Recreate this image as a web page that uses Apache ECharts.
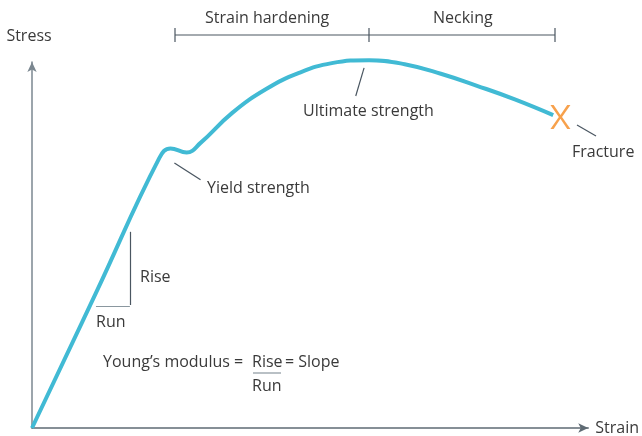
<!DOCTYPE html>
<html>
<head>
<meta charset="utf-8">
<script src="https://cdn.jsdelivr.net/npm/echarts@6/dist/echarts.min.js"></script>
<style>
  html, body { margin: 0; padding: 0; background: #fff; }
  #chart { width: 642px; height: 436px; }
</style>
</head>
<body>
<div id="chart"></div>
<script>
// strain (0-100) vs stress (0-100)
const strain = [0, 11.5, 22.9, 24.9, 27.8, 30.3, 36.0, 42.1, 48.0, 53.9, 60.6, 67.0, 73.5, 80.0, 86.8, 93.7]
const stress = [0, 36.9, 73.8, 76.4, 75.3, 77.9, 86.1, 92.6, 97.0, 99.7, 100.5, 99.4, 96.8, 93.5, 89.8, 85.5]
const fracturePoint = [95.0, 85.0]

const curve = strain.map((x, i) => [x, stress[i]])

const textColor = '#3a3a3a'
const lineGray = '#4a5661'
const font = '16px "Open Sans", "Noto Sans", sans-serif'

let myEcharts = echarts.init(document.getElementById('chart'))

// leader lines in data coords
function seg(a, b, color) {
  return [
    { coord: a, lineStyle: { color: color || lineGray } },
    { coord: b }
  ]
}

function label(text, left, top) {
  return { type: 'text', left: left, top: top, style: { text: text, fill: textColor, font: font } }
}

function gline(x1, y1, x2, y2, color) {
  return { type: 'line', shape: { x1: x1, y1: y1, x2: x2, y2: y2 }, style: { stroke: color || lineGray, lineWidth: 1.2 } }
}

myEcharts.setOption({
  animation: false,
  grid: { left: 32, right: 52, top: 62, bottom: 8 },
  xAxis: {
    type: 'value',
    min: 0,
    max: 100,
    name: 'Strain',
    nameLocation: 'end',
    nameGap: 7,
    nameTextStyle: { color: textColor, fontSize: 16, fontFamily: '"Open Sans", sans-serif', verticalAlign: 'middle' },
    axisLine: { lineStyle: { color: '#5f6b74', width: 1.5 }, symbol: ['none', 'arrow'], symbolSize: [7, 10] },
    axisTick: { show: false },
    axisLabel: { show: false },
    splitLine: { show: false }
  },
  yAxis: {
    type: 'value',
    min: 0,
    max: 100,
    name: 'Stress',
    nameLocation: 'end',
    nameGap: 18,
    nameTextStyle: { color: textColor, fontSize: 16, fontFamily: '"Open Sans", sans-serif', padding: [0, 6, 0, 0] },
    axisLine: { lineStyle: { color: '#7b8790', width: 1.5 }, symbol: ['none', 'arrow'], symbolSize: [7, 10] },
    axisTick: { show: false },
    axisLabel: { show: false },
    splitLine: { show: false }
  },
  series: [
    {
      type: 'line',
      data: curve,
      smooth: 0.45,
      showSymbol: false,
      clip: false,
      lineStyle: { color: '#41bad4', width: 4 },
      markLine: {
        silent: true,
        symbol: 'none',
        label: { show: false },
        lineStyle: { type: 'solid', width: 1.2 },
        data: [
          seg([59.7, 98.4], [58.2, 90.7]),
          seg([25.6, 72.4], [30.3, 67.8]),
          // rise / run triangle
          seg([17.6, 53.6], [17.6, 33.6]),
          seg([11.5, 33.3], [17.6, 33.3], '#8a979f')
        ]
      }
    },
    {
      type: 'scatter',
      data: [fracturePoint],
      clip: false,
      symbol: 'path://M0,0 L3.2,0 L10,10.2 L16.8,0 L20,0 L11.6,12 L20,24 L16.8,24 L10,13.8 L3.2,24 L0,24 L8.4,12 Z',
      symbolSize: [20, 24],
      itemStyle: { color: '#f58a1f' },
      z: 5
    }
  ],
  graphic: [
    // bracket over the top
    gline(175, 35, 555, 35),
    gline(175, 28, 175, 42),
    gline(369, 28, 369, 42),
    gline(555, 28, 555, 42),
    // fracture leader
    gline(577, 125, 596, 136),
    label('Strain hardening', 205, 10),
    label('Necking', 433, 10),
    label('Ultimate strength', 303, 103),
    label('Yield strength', 207, 180),
    label('Fracture', 572, 144),
    label('Rise', 140, 269),
    label('Run', 96, 314),
    label('Young’s modulus =', 103, 354),
    label('Rise', 252, 354),
    label('= Slope', 285, 354),
    gline(253, 373, 281, 373, '#8a979f'),
    label('Run', 252, 378)
  ]
})
</script>
</body>
</html>
